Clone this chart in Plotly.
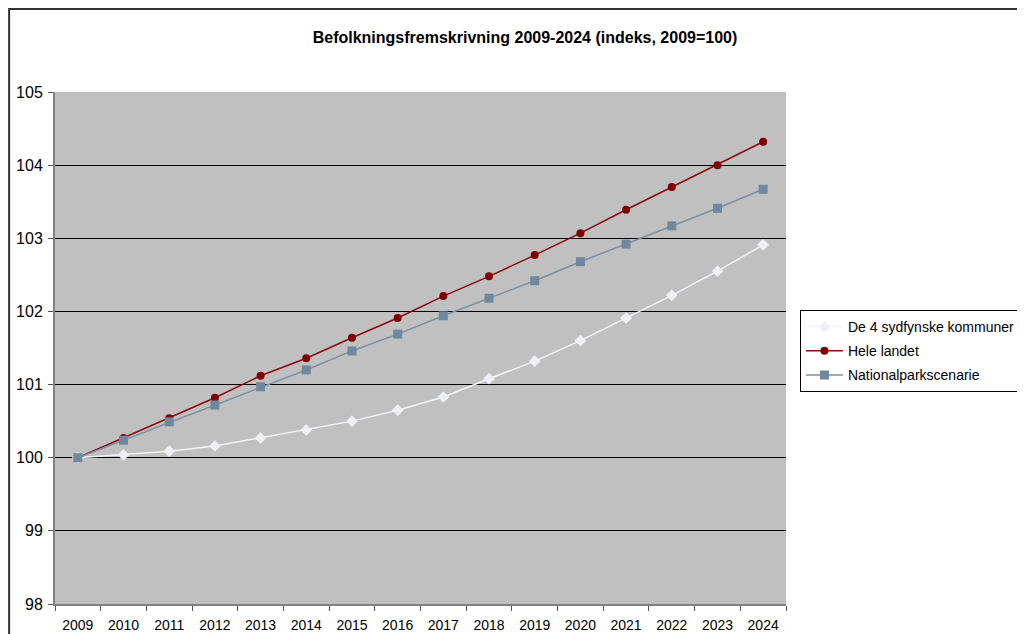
import plotly.graph_objects as go

years = [str(y) for y in range(2009, 2025)]

sydfyn = [100.0, 100.04, 100.09, 100.16, 100.27, 100.38, 100.50, 100.65,
          100.83, 101.08, 101.32, 101.60, 101.91, 102.22, 102.55, 102.91]
hele_landet = [100.0, 100.27, 100.54, 100.82, 101.12, 101.36, 101.64, 101.91,
               102.21, 102.48, 102.77, 103.07, 103.39, 103.70, 104.00, 104.32]
nationalpark = [100.0, 100.24, 100.49, 100.72, 100.97, 101.20, 101.46, 101.69,
                101.94, 102.18, 102.42, 102.68, 102.92, 103.17, 103.41, 103.67]

y_ticks = [98, 99, 100, 101, 102, 103, 104, 105]

FONT = "Liberation Sans, Arial, sans-serif"
OFF = 8  # page body margin shifts the figure by 8px

fig = go.Figure()
fig.add_trace(go.Scatter(
    x=years, y=sydfyn, mode="lines+markers", name="De 4 sydfynske kommuner",
    line=dict(color="#F4F4F8", width=1.5),
    marker=dict(symbol="diamond", size=9, color="#EEF0F6"),
    legendgroup="a",
))
fig.add_trace(go.Scatter(
    x=years, y=hele_landet, mode="lines+markers", name="Hele landet",
    line=dict(color="#8B0A0A", width=1.5),
    marker=dict(symbol="circle", size=8, color="#800000"),
    legendgroup="b",
))
fig.add_trace(go.Scatter(
    x=years, y=nationalpark, mode="lines+markers", name="Nationalparkscenarie",
    line=dict(color="#7A90A4", width=1.5),
    marker=dict(symbol="square", size=9, color="#6F889E"),
    legendgroup="c",
))

# outer chart border
fig.add_shape(type="rect", xref="paper", yref="paper",
              x0=(9 - 55) / 733, x1=(1040 - 55) / 733,
              y0=(604 - 650) / 512, y1=(604 - 9) / 512,
              line=dict(color="#333333", width=2), fillcolor="rgba(0,0,0,0)",
              layer="below")

fig.update_layout(
    width=1025,
    height=634,
    paper_bgcolor="white",
    plot_bgcolor="#C0C0C0",
    font=dict(family=FONT, color="black", size=14),
    margin=dict(l=55 - OFF, r=1025 - 788 + OFF, t=92 - OFF, b=634 - 604 + OFF),
    title=dict(
        text="<b>Befolkningsfremskrivning 2009-2024 (indeks, 2009=100)</b>",
        font=dict(family=FONT, size=16, color="black"),
        x=(525 - OFF) / 1025, xanchor="center", xref="container",
        y=1 - (37 - OFF) / 634, yanchor="middle", yref="container",
    ),
    xaxis=dict(
        type="category",
        range=[-0.5, len(years) - 0.5],
        automargin=False,
        showgrid=False,
        tickson="boundaries",
        ticks="outside",
        ticklen=5,
        tickcolor="#555555",
        showline=True,
        linecolor="#808080",
        linewidth=2,
        tickfont=dict(size=14),
        ticklabelstandoff=7,
    ),
    yaxis=dict(
        range=[98, 105],
        tickvals=y_ticks,
        automargin=False,
        showgrid=True,
        gridcolor="black",
        gridwidth=1,
        zeroline=False,
        ticks="outside",
        ticklen=5,
        tickcolor="#555555",
        showline=True,
        linecolor="#808080",
        linewidth=2,
        tickfont=dict(size=16),
        ticklabelstandoff=2,
    ),
    legend=dict(
        x=(802 - 55) / 733, xanchor="left",
        y=(604 - 310) / 512, yanchor="top",
        bgcolor="white",
        bordercolor="black",
        borderwidth=1,
        font=dict(size=14),
        tracegroupgap=3,
        itemwidth=37,
    ),
    showlegend=True,
)

fig.write_html("out.html")
